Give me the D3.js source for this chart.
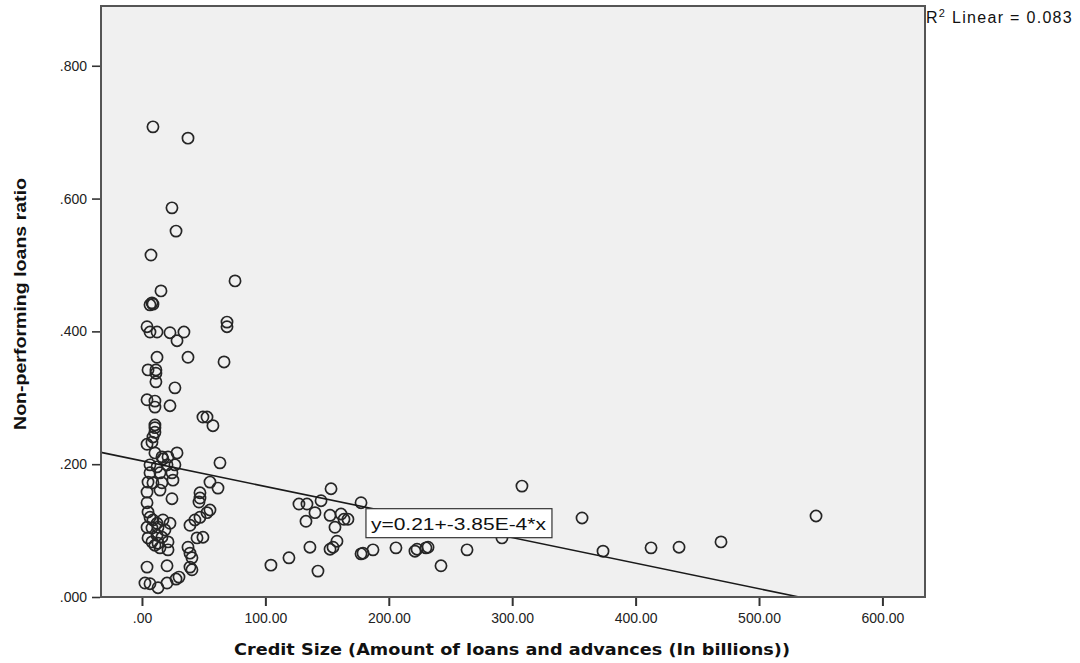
<!DOCTYPE html>
<html>
<head>
<meta charset="utf-8">
<script src="https://cdn.jsdelivr.net/npm/d3@7"></script>
<style>
  html, body { margin: 0; padding: 0; background: #ffffff; }
  svg { display: block; }
</style>
</head>
<body>
<svg id="chart" width="1080" height="663"></svg>
<script>
// Credit size (billions) for each bank observation
const creditSize = [
  8.9, 37.3, 24.3, 27.6, 7.3, 75.4, 15.4, 8.1, 8.9, 6.5,
  68.9, 68.9, 4.1, 6.5, 12.2, 22.7, 34.0, 28.4, 12.2, 37.3,
  66.5, 4.9, 11.3, 11.3, 11.3, 26.7, 4.1, 10.5, 10.5, 22.7,
  49.4, 52.7, 57.5, 10.5, 10.5, 10.5, 8.9, 4.1, 8.1, 10.5,
  16.2, 17.0, 21.1, 28.4, 6.5, 12.2, 20.3, 26.7, 63.2, 6.5,
  14.6, 24.3, 4.9, 8.9, 16.2, 25.1, 55.1, 61.6, 4.1, 14.6,
  47.0, 47.0, 46.2, 24.3, 4.1, 4.9, 6.5, 8.9, 12.2, 4.1,
  8.1, 13.0, 17.0, 22.7, 18.6, 12.2, 16.2, 4.9, 8.1, 13.0,
  21.1, 21.1, 14.6, 10.5, 38.9, 42.9, 47.0, 52.7, 55.1, 44.6,
  49.4, 37.3, 38.9, 40.5, 38.9, 40.5, 4.1, 20.3, 2.4, 6.5,
  13.0, 20.3, 27.6, 30.0,
  153.2, 127.2, 133.7, 145.1, 140.2, 132.9, 152.4, 161.3, 166.9, 163.7,
  156.4, 177.5, 158.0, 154.8, 152.4, 136.1, 119.1, 104.5, 142.6, 177.5,
  179.1, 187.2, 205.8, 221.2, 222.9, 230.1, 231.8, 242.3, 263.4, 291.7,
  307.9, 356.6, 373.6, 412.5, 435.2, 469.2, 546.2
];

// Non-performing loans ratio for the same observations
const nplRatio = [
  0.708, 0.691, 0.586, 0.551, 0.515, 0.476, 0.461, 0.443, 0.441, 0.440,
  0.414, 0.407, 0.407, 0.399, 0.399, 0.398, 0.399, 0.386, 0.361, 0.361,
  0.354, 0.342, 0.342, 0.337, 0.324, 0.315, 0.297, 0.295, 0.286, 0.288,
  0.271, 0.271, 0.258, 0.259, 0.255, 0.248, 0.241, 0.230, 0.233, 0.217,
  0.211, 0.208, 0.211, 0.217, 0.199, 0.196, 0.199, 0.199, 0.202, 0.187,
  0.187, 0.187, 0.173, 0.172, 0.172, 0.176, 0.173, 0.164, 0.158, 0.161,
  0.157, 0.149, 0.143, 0.148, 0.142, 0.128, 0.120, 0.116, 0.111, 0.105,
  0.104, 0.105, 0.116, 0.111, 0.101, 0.093, 0.090, 0.089, 0.083, 0.081,
  0.083, 0.071, 0.074, 0.078, 0.108, 0.116, 0.120, 0.127, 0.131, 0.089,
  0.090, 0.075, 0.066, 0.059, 0.045, 0.041, 0.045, 0.047, 0.021, 0.020,
  0.014, 0.021, 0.027, 0.030,
  0.163, 0.140, 0.140, 0.145, 0.127, 0.114, 0.123, 0.125, 0.117, 0.117,
  0.105, 0.142, 0.084, 0.075, 0.072, 0.075, 0.059, 0.048, 0.039, 0.065,
  0.066, 0.071, 0.074, 0.069, 0.072, 0.074, 0.075, 0.047, 0.071, 0.089,
  0.167, 0.119, 0.069, 0.074, 0.075, 0.083, 0.122
];

// Axis ticks and labels
const xTicks = [0, 100, 200, 300, 400, 500, 600];
const xTickLabels = [".00", "100.00", "200.00", "300.00", "400.00", "500.00", "600.00"];
const yTicks = [0, 0.2, 0.4, 0.6, 0.8];
const yTickLabels = [".000", ".200", ".400", ".600", ".800"];

// Fit line (linear, total sample)
const fitIntercept = 0.205;
const fitSlope = -3.85e-4;
const fitLabel = "y=0.21+-3.85E-4*x";
const rSquaredLabel = "0.083";

const xTitle = "Credit Size (Amount of loans and advances (In billions))";
const yTitle = "Non-performing loans ratio";

const points = creditSize.map((c, i) => ({ x: c, y: nplRatio[i] }));

const svg = d3.select("#chart");
const plot = { left: 101, top: 6, right: 925, bottom: 597 };

const x = d3.scaleLinear().domain([-33.2, 634.5]).range([plot.left, plot.right]);
const y = d3.scaleLinear().domain([0, 0.89]).range([plot.bottom, plot.top]);

// Plot background
svg.append("rect")
  .attr("x", plot.left).attr("y", plot.top)
  .attr("width", plot.right - plot.left).attr("height", plot.bottom - plot.top)
  .attr("fill", "#f0f0f0");

svg.append("clipPath").attr("id", "plotClip")
  .append("rect")
  .attr("x", plot.left).attr("y", plot.top)
  .attr("width", plot.right - plot.left).attr("height", plot.bottom - plot.top);

// Scatter points
svg.append("g")
  .attr("clip-path", "url(#plotClip)")
  .selectAll("circle")
  .data(points)
  .join("circle")
  .attr("cx", d => x(d.x))
  .attr("cy", d => y(d.y))
  .attr("r", 5.6)
  .attr("fill", "none")
  .attr("stroke", "#262626")
  .attr("stroke-width", 1.7);

// Fit line across the plot, stopped where it meets the x axis
const xDom = x.domain();
const xZero = -fitIntercept / fitSlope;
const lineEnd = Math.min(xDom[1], xZero);
svg.append("line")
  .attr("x1", x(xDom[0])).attr("y1", y(fitIntercept + fitSlope * xDom[0]))
  .attr("x2", x(lineEnd)).attr("y2", y(fitIntercept + fitSlope * lineEnd))
  .attr("stroke", "#1a1a1a")
  .attr("stroke-width", 1.6);

// Equation label box
const eq = svg.append("g");
const eqX = x(181.5);
const eqY = y(0.133);
eq.append("rect")
  .attr("x", eqX).attr("y", eqY)
  .attr("width", 186).attr("height", 29)
  .attr("fill", "#ffffff")
  .attr("stroke", "#333")
  .attr("stroke-width", 1.2);
eq.append("text")
  .attr("x", eqX + 5).attr("y", eqY + 21)
  .attr("font-family", "Liberation Sans, Arial, sans-serif")
  .attr("font-size", 17)
  .attr("textLength", 175)
  .attr("lengthAdjust", "spacingAndGlyphs")
  .attr("fill", "#111")
  .text(fitLabel);

// Frame
svg.append("rect")
  .attr("x", plot.left).attr("y", plot.top)
  .attr("width", plot.right - plot.left).attr("height", plot.bottom - plot.top)
  .attr("fill", "none")
  .attr("stroke", "#555")
  .attr("stroke-width", 2);

// X axis
const xAxis = d3.axisBottom(x)
  .tickValues(xTicks)
  .tickSize(8)
  .tickPadding(7)
  .tickFormat((d, i) => xTickLabels[i]);
const gx = svg.append("g")
  .attr("transform", `translate(0,${plot.bottom + 1})`)
  .call(xAxis);
gx.select(".domain").remove();
gx.selectAll(".tick line").attr("stroke", "#333").attr("stroke-width", 2);
gx.selectAll(".tick text")
  .attr("font-family", "Liberation Sans, Arial, sans-serif")
  .attr("font-size", 14)
  .attr("fill", "#222");

// Y axis
const yAxis = d3.axisLeft(y)
  .tickValues(yTicks)
  .tickSize(8)
  .tickPadding(5)
  .tickFormat((d, i) => yTickLabels[i]);
const gy = svg.append("g")
  .attr("transform", `translate(${plot.left - 1},0)`)
  .call(yAxis);
gy.select(".domain").remove();
gy.selectAll(".tick line").attr("stroke", "#333").attr("stroke-width", 1.6);
gy.selectAll(".tick text")
  .attr("font-family", "Liberation Sans, Arial, sans-serif")
  .attr("font-size", 14)
  .attr("fill", "#222");

// Axis titles
svg.append("text")
  .attr("x", 512).attr("y", 655)
  .attr("text-anchor", "middle")
  .attr("font-family", "DejaVu Sans, Verdana, sans-serif")
  .attr("font-weight", "bold")
  .attr("font-size", 16)
  .attr("textLength", 556)
  .attr("lengthAdjust", "spacingAndGlyphs")
  .attr("fill", "#111")
  .text(xTitle);

svg.append("text")
  .attr("transform", "translate(26,304) rotate(-90)")
  .attr("text-anchor", "middle")
  .attr("font-family", "Liberation Sans Narrow, Liberation Sans, Arial, sans-serif")
  .attr("font-weight", "bold")
  .attr("font-size", 17)
  .attr("textLength", 252)
  .attr("lengthAdjust", "spacingAndGlyphs")
  .attr("fill", "#111")
  .text(yTitle);

// R-squared annotation
const r2 = svg.append("text")
  .attr("x", 926).attr("y", 23)
  .attr("font-family", "Liberation Sans, Arial, sans-serif")
  .attr("font-size", 16)
  .attr("letter-spacing", 1.3)
  .attr("fill", "#111");
r2.append("tspan").text("R");
r2.append("tspan").attr("dy", -6).attr("font-size", 11).text("2");
r2.append("tspan").attr("dy", 6).text(" Linear = " + rSquaredLabel);
</script>
</body>
</html>
